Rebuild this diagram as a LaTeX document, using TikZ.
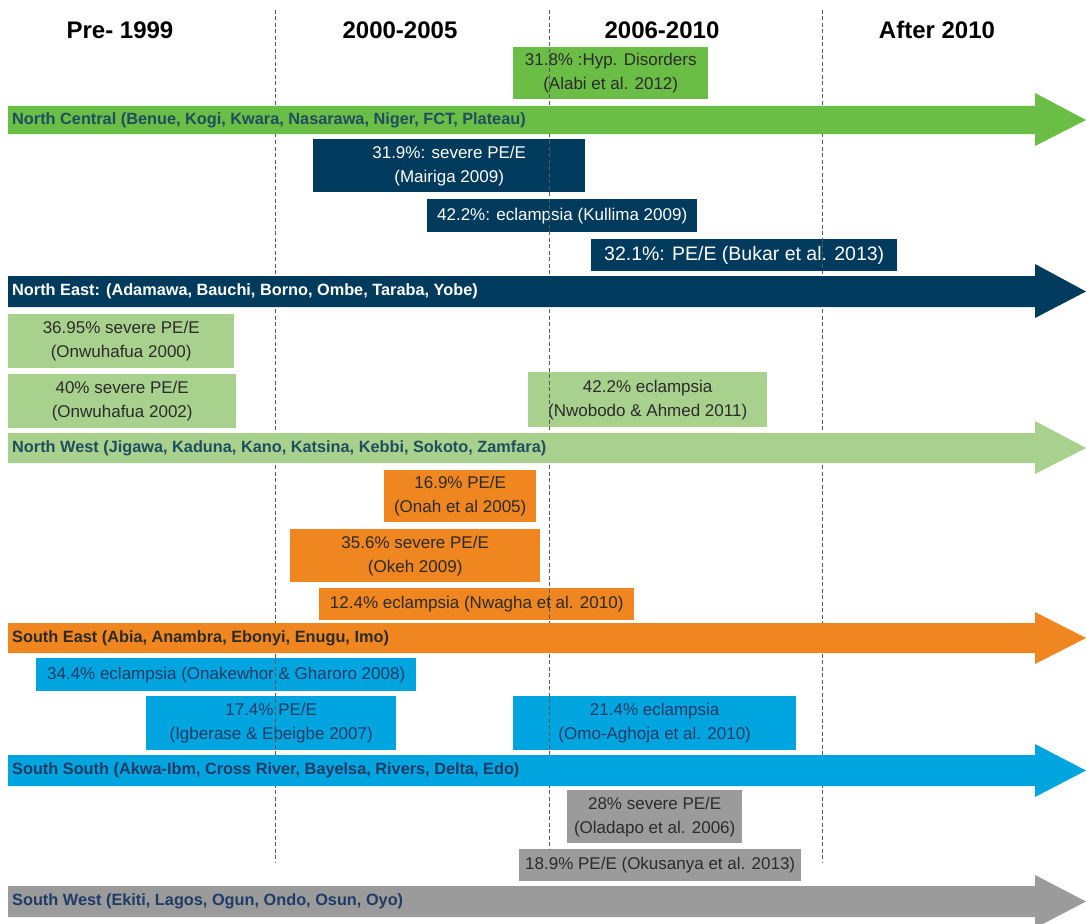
\documentclass[tikz,border=0pt]{standalone}
\usepackage{fontspec}
\setmainfont{Liberation Sans}
\definecolor{ncgreen}{HTML}{6ABD45}
\definecolor{nenavy}{HTML}{003A5C}
\definecolor{nwgreen}{HTML}{A9D18E}
\definecolor{seorange}{HTML}{F0861F}
\definecolor{ssblue}{HTML}{00A5DF}
\definecolor{swgray}{HTML}{9B9B9B}
\definecolor{tealtxt}{HTML}{1F4E5F}
\definecolor{navytxt}{HTML}{1F3B66}
\definecolor{darktxt}{HTML}{2B2B2B}
\tikzset{
  box/.style={anchor=north west, inner sep=0pt, align=center, text=darktxt,
    font=\fontsize{17}{24}\selectfont},
  bandlabel/.style={anchor=west, inner sep=0pt, font=\bfseries\fontsize{16.3}{19}\selectfont},
  header/.style={font=\bfseries\fontsize{24}{28}\selectfont, text=black},
  divider/.style={draw=black!65, line width=0.8pt, dash pattern=on 4pt off 2.5pt},
}
\newcommand\regionarrow[5]{%
  \fill[#5] (8,#1) -- (1035,#1) -- (1035,#3) -- (1086,{(#1+#2)/2}) -- (1035,#4) -- (1035,#2) -- (8,#2) -- cycle;}
\begin{document}
\begin{tikzpicture}[x=1pt,y=-1pt]
\useasboundingbox (0,0) rectangle (1086,923);
% headers
\node[header] (h1) at (120,30) {Pre- 1999};
\node[header] (h2) at (400,30) {2000-2005};
\node[header] (h3) at (662,30) {2006-2010};
\node[header] (h4) at (937,30) {After 2010};
% boxes
\node[box, fill=ncgreen, minimum width=195pt, minimum height=52pt] (alabi) at (513,47) {31.8\% :Hyp. Disorders\\(Alabi et al. 2012)};
\node[box, fill=nenavy, text=white, minimum width=272pt, minimum height=53pt] (mairiga) at (313,139) {31.9\%: severe PE/E\\(Mairiga 2009)};
\node[box, fill=nenavy, text=white, minimum width=270pt, minimum height=33pt] (kullima) at (427,199) {42.2\%: eclampsia (Kullima 2009)};
\node[box, fill=nenavy, text=white, minimum width=306pt, minimum height=32pt, font=\fontsize{19.5}{22}\selectfont] (bukar) at (591,239) {32.1\%: PE/E (Bukar et al. 2013)};
\node[box, fill=nwgreen, minimum width=226pt, minimum height=54pt] (onw2000) at (8,314) {36.95\% severe PE/E\\(Onwuhafua 2000)};
\node[box, fill=nwgreen, minimum width=228pt, minimum height=54pt] (onw2002) at (8,374) {40\% severe PE/E\\(Onwuhafua 2002)};
\node[box, fill=nwgreen, minimum width=239pt, minimum height=55pt] (nwobodo) at (528,372) {42.2\% eclampsia\\(Nwobodo \& Ahmed 2011)};
\node[box, fill=seorange, minimum width=152pt, minimum height=52pt] (onah) at (384,470) {16.9\% PE/E\\(Onah et al 2005)};
\node[box, fill=seorange, minimum width=250pt, minimum height=53pt] (okeh) at (290,529) {35.6\% severe PE/E\\(Okeh 2009)};
\node[box, fill=seorange, minimum width=315pt, minimum height=32pt] (nwagha) at (319,588) {12.4\% eclampsia (Nwagha et al. 2010)};
\node[box, fill=ssblue, text=navytxt, minimum width=380pt, minimum height=33pt] (onakewhor) at (36,658) {34.4\% eclampsia (Onakewhor \& Gharoro 2008)};
\node[box, fill=ssblue, text=navytxt, minimum width=250pt, minimum height=54pt] (igberase) at (146,696) {17.4\% PE/E\\(Igberase \& Ebeigbe 2007)};
\node[box, fill=ssblue, text=navytxt, minimum width=283pt, minimum height=54pt] (omo) at (513,696) {21.4\% eclampsia\\(Omo-Aghoja et al. 2010)};
\node[box, fill=swgray, minimum width=175pt, minimum height=53pt] (oladapo) at (567,790) {28\% severe PE/E\\(Oladapo et al. 2006)};
\node[box, fill=swgray, minimum width=282pt, minimum height=32pt] (okusanya) at (519,849) {18.9\% PE/E (Okusanya et al. 2013)};
% dividers
\draw[divider] (275,10) -- (275,863);
\draw[divider] (549,10) -- (549,849);
\draw[divider] (822,10) -- (822,862);
% region arrows
\regionarrow{106}{134}{93}{146}{ncgreen}
\node[bandlabel, text=tealtxt] (nc) at (12,120) {North Central (Benue, Kogi, Kwara, Nasarawa, Niger, FCT, Plateau)};
\regionarrow{276}{307}{264}{318}{nenavy}
\node[bandlabel, text=white] (ne) at (12,291.5) {North East: (Adamawa, Bauchi, Borno, Ombe, Taraba, Yobe)};
\regionarrow{433}{463}{421}{474}{nwgreen}
\node[bandlabel, text=tealtxt] (nw) at (12,448) {North West (Jigawa, Kaduna, Kano, Katsina, Kebbi, Sokoto, Zamfara)};
\regionarrow{623}{653}{612}{664}{seorange}
\node[bandlabel, text=darktxt] (se) at (12,638) {South East (Abia, Anambra, Ebonyi, Enugu, Imo)};
\regionarrow{755}{786}{744}{797}{ssblue}
\node[bandlabel, text=navytxt] (ss) at (12,770.5) {South South (Akwa-Ibm, Cross River, Bayelsa, Rivers, Delta, Edo)};
\regionarrow{886}{917}{875}{928}{swgray}
\node[bandlabel, text=navytxt] (sw) at (12,901.5) {South West (Ekiti, Lagos, Ogun, Ondo, Osun, Oyo)};
\end{tikzpicture}
\end{document}
